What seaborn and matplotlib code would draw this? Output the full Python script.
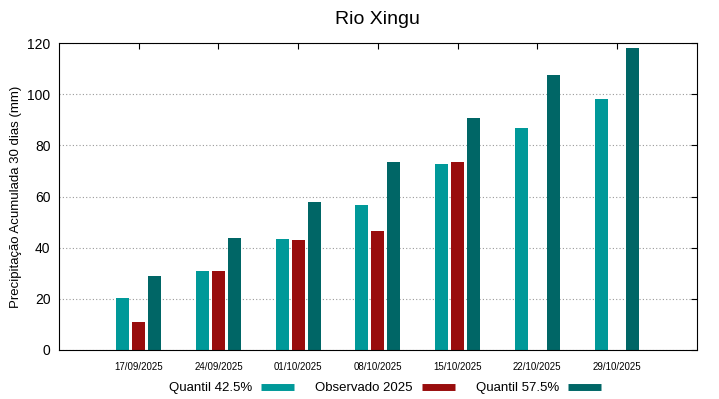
import pandas as pd
import numpy as np
import matplotlib
matplotlib.use('Agg')
import matplotlib.pyplot as plt
import seaborn as sns
from matplotlib.lines import Line2D

datas = ['17/09/2025', '24/09/2025', '01/10/2025', '08/10/2025',
         '15/10/2025', '22/10/2025', '29/10/2025']
quantil_425 = [20.3, 30.9, 43.4, 56.7, 72.7, 86.8, 98.1]
observado = [10.9, 30.9, 43.0, 46.5, 73.5, np.nan, np.nan]
quantil_575 = [28.9, 43.8, 57.9, 73.5, 90.7, 107.5, 118.1]

series = ['Quantil 42.5%', 'Observado 2025', 'Quantil 57.5%']
cores = ['#009999', '#990d0d', '#006666']

df = pd.DataFrame({'data': datas, series[0]: quantil_425,
                   series[1]: observado, series[2]: quantil_575})
df = df.melt(id_vars='data', var_name='serie', value_name='valor')

sns.set_style('white')
plt.rcParams['font.family'] = ['Liberation Sans', 'DejaVu Sans']
for k in ['text.color', 'axes.labelcolor', 'xtick.color', 'ytick.color']:
    plt.rcParams[k] = 'black'

fig = plt.figure(figsize=(7.19, 3.99), dpi=100)
ax = fig.add_axes([0.082, 0.123, 0.887, 0.769])

sns.barplot(data=df, x='data', y='valor', hue='serie', order=datas,
            hue_order=series, palette=cores, width=0.6, gap=0.18,
            saturation=1, legend=False, linewidth=0, ax=ax)

ax.set_xlim(-1, 7)
ax.set_ylim(0, 120)
ax.set_yticks(range(0, 121, 20))
ax.yaxis.grid(True, linestyle=(0, (1, 2)), color='#999999', linewidth=0.8)
ax.set_axisbelow(True)
for s in ax.spines.values():
    s.set_color('black')
    s.set_linewidth(0.8)
ax.tick_params(axis='x', direction='in', top=True, length=4, labelsize=7, pad=9)
ax.tick_params(axis='y', direction='in', right=True, length=4, labelsize=10, pad=6)
ax.set_xlabel('')
ax.set_ylabel('Precipitação Acumulada 30 dias (mm)', fontsize=9.5)
ax.set_title('Rio Xingu', fontsize=14, pad=14)

handles = [Line2D([0], [0], color=c, lw=5, solid_capstyle='butt') for c in cores]
fig.legend(handles, series, loc='center', bbox_to_anchor=(385 / 719, 1 - 388 / 399),
           ncol=3, frameon=False, markerfirst=False, fontsize=9.5,
           handlelength=2.5, handletextpad=0.7, columnspacing=1.6)

fig.savefig('out.png', dpi=100)
